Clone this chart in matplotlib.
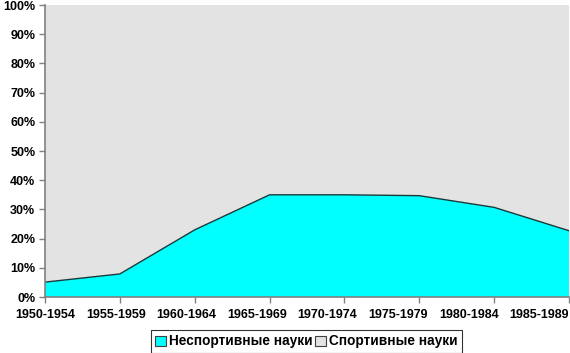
import matplotlib
matplotlib.use("Agg")
import matplotlib.pyplot as plt
from matplotlib.patches import Patch
import numpy as np

categories = ["1950-1954", "1955-1959", "1960-1964", "1965-1969",
              "1970-1974", "1975-1979", "1980-1984", "1985-1989"]
non_sport = [5.1, 7.9, 23.0, 35.0, 35.0, 34.7, 30.7, 22.7]
sport = [100 - v for v in non_sport]
yticks = [0, 10, 20, 30, 40, 50, 60, 70, 80, 90, 100]
ytick_labels = [f"{t}%" for t in yticks]
series_names = ["Неспортивные науки", "Спортивные науки"]

plt.rcParams['font.family'] = ['Liberation Sans', 'DejaVu Sans']
plt.rcParams['font.weight'] = 'bold'

fig = plt.figure(figsize=(5.7, 3.53), dpi=100)
ax = fig.add_axes([45/570, 1 - 297/353, 524/570, 292/353])

x = np.arange(len(categories))
ax.stackplot(x, non_sport, sport, colors=["#00FFFF", "#E3E3E3"], linewidth=0)
ax.plot(x, non_sport, color="#1a3a3a", linewidth=1.0)

ax.set_xlim(0, len(categories) - 1)
ax.set_ylim(0, 100)
# tick marks at category positions; labels spread evenly so the last fits
ax.xaxis.remove_overlapping_locs = False
ax.set_xticks(x)
ax.set_xticklabels([])
label_pos = x * 0.9437
ax.set_xticks(label_pos, minor=True)
ax.set_xticklabels(categories, minor=True, fontsize=9, fontweight='bold')
ax.tick_params(axis='x', which='minor', length=0, pad=9)
ax.set_yticks(yticks)
ax.set_yticklabels(ytick_labels, fontsize=9, fontweight='bold')
for s in ["top", "right"]:
    ax.spines[s].set_visible(False)
for s in ["left", "bottom"]:
    ax.spines[s].set_color("#808080")
    ax.spines[s].set_linewidth(1.2)
ax.tick_params(axis='both', which='major', direction='out', length=4, color="#808080", width=1)
ax.tick_params(axis='y', pad=3)

handles = [Patch(facecolor="#00FFFF", edgecolor="#404040", linewidth=0.8),
           Patch(facecolor="#E3E3E3", edgecolor="#404040", linewidth=0.8)]
leg = fig.legend(handles, series_names, loc="center", bbox_to_anchor=(306.5/570, 1 - 341.5/353),
                 ncol=2, frameon=True, fancybox=False,
                 handlelength=0.75, handleheight=0.75, handletextpad=0.25,
                 columnspacing=0.2, borderpad=0.35, borderaxespad=0,
                 prop={'weight': 'bold', 'size': 9.8})
leg.get_frame().set_edgecolor("black")
leg.get_frame().set_linewidth(0.8)

fig.savefig("out.png", dpi=100)
